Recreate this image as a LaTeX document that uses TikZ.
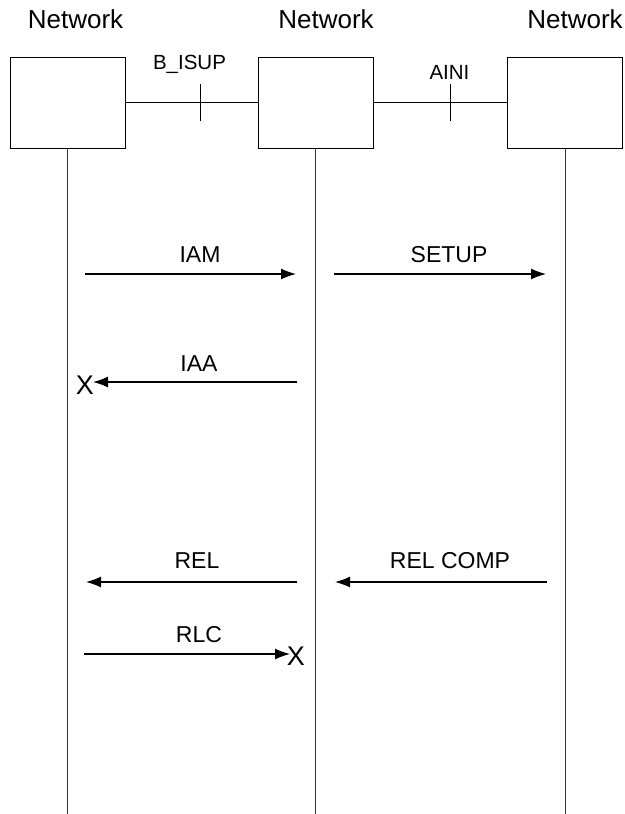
\documentclass[tikz,border=0pt]{standalone}
\usepackage{fontspec}
\setmainfont{Liberation Sans}
\usetikzlibrary{arrows.meta}
\begin{document}
\begin{tikzpicture}[x=1pt,y=-1pt,
  ent/.style={draw, line width=0.9pt, minimum width=115pt, minimum height=91pt, inner sep=0pt},
  life/.style={draw=black!80, line width=1pt},
  conn/.style={draw, line width=0.9pt},
  msg/.style={draw, line width=1.3pt, -{Latex[length=15pt,width=11pt]}},
  netlbl/.style={font=\fontsize{26}{30}\selectfont, anchor=base, inner sep=0pt},
  ifl/.style={font=\fontsize{20.5}{24}\selectfont, anchor=base, inner sep=0pt},
  lbl/.style={font=\fontsize{23}{27}\selectfont, anchor=base, inner sep=0pt},
  xmark/.style={font=\fontsize{27}{30}\selectfont, inner sep=0pt}
]
\useasboundingbox (0,0) rectangle (624,814);
\fill[white] (0,0) rectangle (624,814);

% entities
\node[ent] (b1) at (67.5,102.5) {};
\node[ent] (b2) at (315.5,102.5) {};
\node[ent] (b3) at (565,102.5) {};

\node[netlbl] (n1) at (75.5,28) {Network};
\node[netlbl] (n2) at (326,28) {Network};
\node[netlbl] (n3) at (575,28) {Network};

% lifelines
\coordinate (e1) at (67.5,814);
\coordinate (e2) at (315.5,814);
\coordinate (e3) at (565,814);
\draw[life] (b1) -- (e1);
\draw[life] (b2) -- (e2);
\draw[life] (b3) -- (e3);

% interfaces
\draw[conn] (b1) -- (b2);
\draw[conn] (b2) -- (b3);
\coordinate (t1a) at (200,84);
\coordinate (t1b) at (200,121);
\coordinate (t2a) at (450,84);
\coordinate (t2b) at (450,121);
\draw[conn] (t1a) -- (t1b);
\draw[conn] (t2a) -- (t2b);
\node[ifl] (lb) at (189.5,69) {B\_ISUP};
\node[ifl] (la) at (449.5,79) {AINI};

% messages
\coordinate (iam1) at (85,274);
\coordinate (iam2) at (296,274);
\draw[msg] (iam1) -- (iam2);
\node[lbl] (liam) at (200,262) {IAM};

\coordinate (set1) at (334,274);
\coordinate (set2) at (546,274);
\draw[msg] (set1) -- (set2);
\node[lbl] (lset) at (449,262) {SETUP};

\coordinate (iaa1) at (297,382);
\node[xmark] (x1) at (85,385) {X};
\coordinate (iaa2) at (93,382);
\draw[msg] (iaa1) -- (iaa2);
\node[lbl] (liaa) at (199,371) {IAA};

\coordinate (rel1) at (297,582);
\coordinate (rel2) at (86,582);
\draw[msg] (rel1) -- (rel2);
\node[lbl] (lrel) at (197,568) {REL};

\coordinate (rc1) at (547,582);
\coordinate (rc2) at (335,582);
\draw[msg] (rc1) -- (rc2);
\node[lbl] (lrc) at (450,568) {REL COMP};

\coordinate (rlc1) at (84,654);
\node[xmark] (x2) at (296,656) {X};
\coordinate (rlc2) at (290,654);
\draw[msg] (rlc1) -- (rlc2);
\node[lbl] (lrlc) at (199,642) {RLC};
\end{tikzpicture}
\end{document}
